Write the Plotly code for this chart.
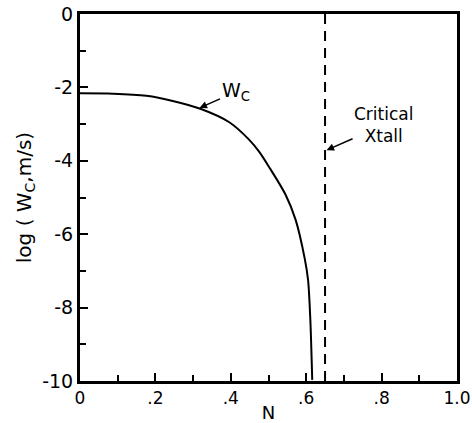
import plotly.graph_objects as go

# Curve W_c: log10(W_c) vs N
n_vals = [0.000, 0.088, 0.176, 0.246, 0.321, 0.396, 0.449, 0.475, 0.501, 0.545, 0.572, 0.596, 0.605, 0.611, 0.616]
logw_vals = [-2.16, -2.17, -2.23, -2.37, -2.59, -2.95, -3.43, -3.75, -4.16, -4.92, -5.61, -6.66, -7.25, -8.34, -9.97]

critical_n = 0.65
y_range = [-10, 0]

x_tickvals = [0, 0.2, 0.4, 0.6, 0.8, 1.0]
x_ticktext = ["0", ".2", ".4", ".6", ".8", "1.0"]
y_tickvals = [0, -2, -4, -6, -8, -10]
y_ticktext = ["0", "-2", "-4", "-6", "-8", "-10"]

FONT = "DejaVu Sans"

fig = go.Figure()
fig.add_trace(go.Scatter(x=n_vals, y=logw_vals, mode="lines",
                         line=dict(color="black", width=2, shape="spline", smoothing=0.8),
                         showlegend=False, hoverinfo="skip"))
fig.add_trace(go.Scatter(x=[critical_n, critical_n], y=y_range, mode="lines",
                         line=dict(color="black", width=2, dash="10px,7px"),
                         showlegend=False, hoverinfo="skip"))

fig.add_annotation(x=0.317, y=-2.56, xref="x", yref="y", text="W<sub>C</sub>",
                   showarrow=True, arrowhead=2, arrowsize=1, arrowwidth=1.5, arrowcolor="black",
                   ax=36, ay=-16, font=dict(family=FONT, size=19, color="black"))
fig.add_annotation(x=0.654, y=-3.71, xref="x", yref="y", text="Critical<br>Xtall",
                   showarrow=True, arrowhead=2, arrowsize=1, arrowwidth=1.5, arrowcolor="black",
                   ax=57, ay=-25, font=dict(family=FONT, size=17, color="black"))

fig.update_layout(
    width=472, height=423,
    margin=dict(l=80, r=15, t=14, b=42),
    paper_bgcolor="white", plot_bgcolor="white",
    font=dict(family=FONT, size=19, color="black"),
)
fig.update_xaxes(range=[0, 1.0], tickvals=x_tickvals, ticktext=x_ticktext,
                 ticks="inside", ticklen=8, tickwidth=2, tickcolor="black",
                 minor=dict(dtick=0.1, ticks="inside", ticklen=6, tickwidth=2, tickcolor="black"),
                 showline=True, linewidth=3, linecolor="black", mirror=True,
                 showgrid=False, zeroline=False, automargin=False,
                 ticklabeloverflow="allow",
                 title=dict(text="N", font=dict(size=18), standoff=0),
                 tickfont=dict(size=17))
fig.update_yaxes(range=y_range, tickvals=y_tickvals, ticktext=y_ticktext,
                 ticks="inside", ticklen=8, tickwidth=2, tickcolor="black",
                 minor=dict(dtick=1, ticks="inside", ticklen=6, tickwidth=2, tickcolor="black"),
                 showline=True, linewidth=3, linecolor="black", mirror=True,
                 showgrid=False, zeroline=False, automargin=False,
                 ticklabeloverflow="allow",
                 title=dict(text="log ( W<sub>C</sub>,m/s)", font=dict(size=20), standoff=6),
                 tickfont=dict(size=19))

fig.write_html("out.html")
